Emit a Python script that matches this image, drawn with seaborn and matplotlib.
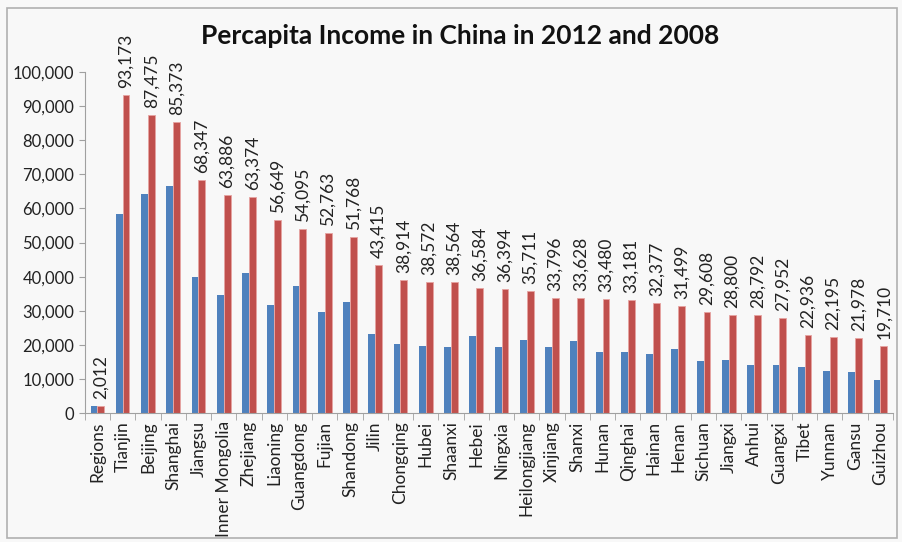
import pandas as pd
import seaborn as sns
import matplotlib.pyplot as plt
from matplotlib.patches import Rectangle
from matplotlib.ticker import FuncFormatter, FixedLocator

# %% DATA

regions = ['Regions', 'Tianjin', 'Beijing', 'Shanghai', 'Jiangsu', 'Inner Mongolia',
           'Zhejiang', 'Liaoning', 'Guangdong', 'Fujian', 'Shandong', 'Jilin',
           'Chongqing', 'Hubei', 'Shaanxi', 'Hebei', 'Ningxia', 'Heilongjiang',
           'Xinjiang', 'Shanxi', 'Hunan', 'Qinghai', 'Hainan', 'Henan', 'Sichuan',
           'Jiangxi', 'Anhui', 'Guangxi', 'Tibet', 'Yunnan', 'Gansu', 'Guizhou']

income_2008 = [2008, 58400, 64200, 66700, 39800, 34700, 41100, 31600, 37300, 29500,
               32600, 23100, 20100, 19600, 19300, 22600, 19300, 21300, 19400, 21100,
               17800, 18000, 17300, 18900, 15200, 15500, 14200, 14200, 13600, 12200,
               12000, 9600]

income_2012 = [2012, 93173, 87475, 85373, 68347, 63886, 63374, 56649, 54095, 52763,
               51768, 43415, 38914, 38572, 38564, 36584, 36394, 35711, 33796, 33628,
               33480, 33181, 32377, 31499, 29608, 28800, 28792, 27952, 22936, 22195,
               21978, 19710]

years = ['2008', '2012']
colors = ['#4f81bd', '#c0504d']

data = pd.concat([
    pd.DataFrame({'Region': regions, 'Income': income_2008, 'Year': '2008'}),
    pd.DataFrame({'Region': regions, 'Income': income_2012, 'Year': '2012'}),
])

# %% PLOT

plt.rcParams['font.family'] = ['Lato', 'DejaVu Sans']

fig = plt.figure(figsize=(9.02, 5.42), dpi=100, facecolor='#f8f8f8')
ax = fig.add_axes([0.094, 0.238, 0.896, 0.629])
ax.set_facecolor('#f8f8f8')

sns.barplot(
    data=data,
    x='Region',
    y='Income',
    hue='Year',
    hue_order=years,
    order=regions,
    palette=colors,
    saturation=1,
    width=0.54,
    gap=0,
    legend=False,
    ax=ax,
)

# red bars get a lighter outline, as in the original
for bar in ax.containers[1]:
    bar.set_edgecolor('#e6a3a1')
    bar.set_linewidth(0.6)

ax.bar_label(
    ax.containers[1],
    labels=[f'{v:,}' for v in income_2012],
    rotation=90,
    padding=5,
    fontsize=12.5,
    color='#222222',
    clip_on=False,
)

ax.set_ylim(0, 100000)
ax.set_xlim(-0.5, len(regions) - 0.5)
ax.set_yticks(range(0, 100001, 10000))
ax.yaxis.set_major_formatter(FuncFormatter(lambda v, p: f'{int(v):,}'))
ax.set_xlabel('')
ax.set_ylabel('')

ax.tick_params(axis='y', labelsize=12, length=4, color='#a0a0a0', labelcolor='#222222')
ax.tick_params(axis='x', which='major', labelsize=12.5, rotation=90, length=0,
               labelcolor='#222222', pad=6)
ax.xaxis.set_minor_locator(FixedLocator([i + 0.5 for i in range(-1, len(regions))]))
ax.tick_params(axis='x', which='minor', length=5, color='#a0a0a0')

for side in ['top', 'right']:
    ax.spines[side].set_visible(False)
for side in ['left', 'bottom']:
    ax.spines[side].set_color('#a0a0a0')

ax.grid(False)

fig.text(0.51, 0.933, 'Percapita Income in China in 2012 and 2008',
         ha='center', va='center', fontsize=19, fontweight='bold', color='#111111')

fig.patches.append(Rectangle((0.008, 0.008), 0.986, 0.978, transform=fig.transFigure,
                             fill=False, edgecolor='#b0b0b0', linewidth=1.2))

fig.savefig('out.png', dpi=100, facecolor=fig.get_facecolor())
